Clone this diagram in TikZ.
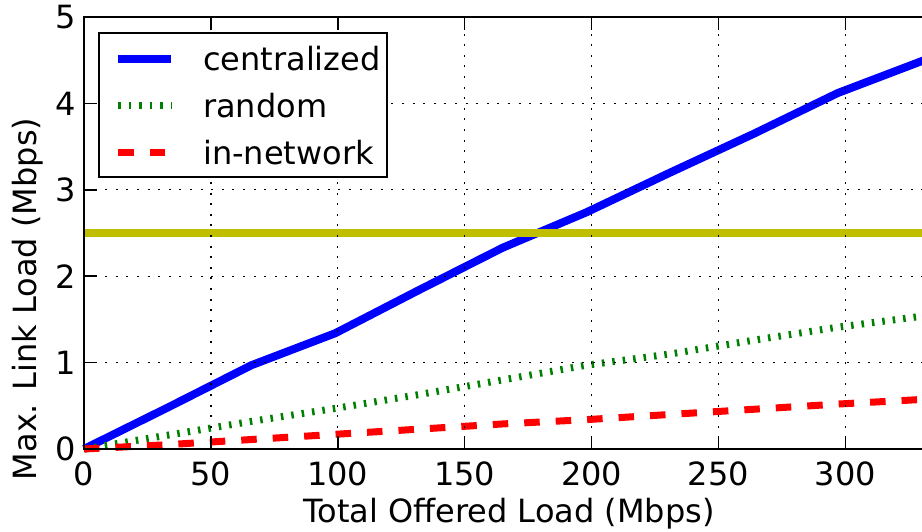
\documentclass[tikz,border=0pt]{standalone}
\usepackage{fontspec}
\setmainfont{DejaVu Sans}
\definecolor{mblue}{rgb}{0,0,1}
\definecolor{mgreen}{rgb}{0,0.5,0}
\definecolor{mred}{rgb}{1,0,0}
\definecolor{myellow}{rgb}{0.75,0.75,0}
\tikzset{
  gridline/.style={black, line width=1.2pt, dash pattern=on 2pt off 8.6pt},
  centralline/.style={mblue, line width=8pt, line join=round},
  randomline/.style={mgreen, line width=7pt, dash pattern=on 2.5pt off 8pt},
  innetline/.style={mred, line width=7pt, dash pattern=on 15.5pt off 16pt},
  thresholdline/.style={myellow, line width=8pt},
  tickmark/.style={black, line width=1.5pt},
  frameline/.style={black, line width=2pt},
  ticklabel/.style={inner sep=0pt},
}
\begin{document}
\begin{tikzpicture}[x=1pt,y=1pt, font=\fontsize{32}{38}\selectfont]
\useasboundingbox (0,0) rectangle (922,531);
\fill[white] (0,0) rectangle (922,531);
\begin{scope}[shift={(84pt,82pt)}, x=2.538pt, y=86.4pt]
  % data
  \draw[centralline] plot coordinates {(0,0) (33,0.48) (66,0.97) (99,1.34) (132,1.84) (165,2.33) (198,2.74) (231,3.2) (264,3.65) (297,4.12) (331,4.5)};
  \draw[randomline] plot coordinates {(0,0) (33,0.16) (66,0.32) (99,0.47) (132,0.63) (165,0.80) (198,0.97) (231,1.10) (264,1.26) (297,1.41) (331,1.54)};
  \draw[innetline] plot coordinates {(0,0) (33,0.05) (66,0.11) (99,0.17) (132,0.23) (165,0.29) (198,0.34) (231,0.40) (264,0.46) (297,0.52) (331,0.575)};
  \draw[thresholdline] (0,2.5) -- (331,2.5);
  % grid
  \foreach \X in {50,100,...,300} \draw[gridline] (\X,0) -- (\X,5);
  \foreach \Y in {1,2,3,4} \draw[gridline] (0,\Y) -- (331,\Y);
  % ticks
  \foreach \X in {0,50,...,300} {
    \draw[tickmark] (\X,0) -- ++(0,13pt);
    \draw[tickmark] (\X,5) -- ++(0,-13pt);
    \node[ticklabel, anchor=north] at ([yshift=-13pt]\X,0) {\X};
  }
  \foreach \Y in {0,...,5} {
    \draw[tickmark] (0,\Y) -- ++(13pt,0);
    \node[ticklabel, anchor=east] at ([xshift=-8pt]0,\Y) {\Y};
  }
  % frame
  \draw[frameline] (331,0) -- (0,0) -- (0,5) -- (331,5);
\end{scope}
% axis labels
\node[anchor=base] (xlab) at (509,9) {Total Offered Load (Mbps)};
\node[anchor=base, rotate=90] (ylab) at (36,232) {Max. Link Load (Mbps)};
% legend
\draw[frameline, fill=white] (99,498) rectangle (387,354);
\draw[centralline] (118,472) -- (171,472);
\draw[randomline] (118,425) -- (171,425);
\draw[innetline] (118,378) -- (171,378);
\node[anchor=west, inner sep=0pt] (l1) at (203,472) {centralized};
\node[anchor=west, inner sep=0pt] (l2) at (203,425) {random};
\node[anchor=west, inner sep=0pt] (l3) at (203,378) {in-network};
\end{tikzpicture}
\end{document}
